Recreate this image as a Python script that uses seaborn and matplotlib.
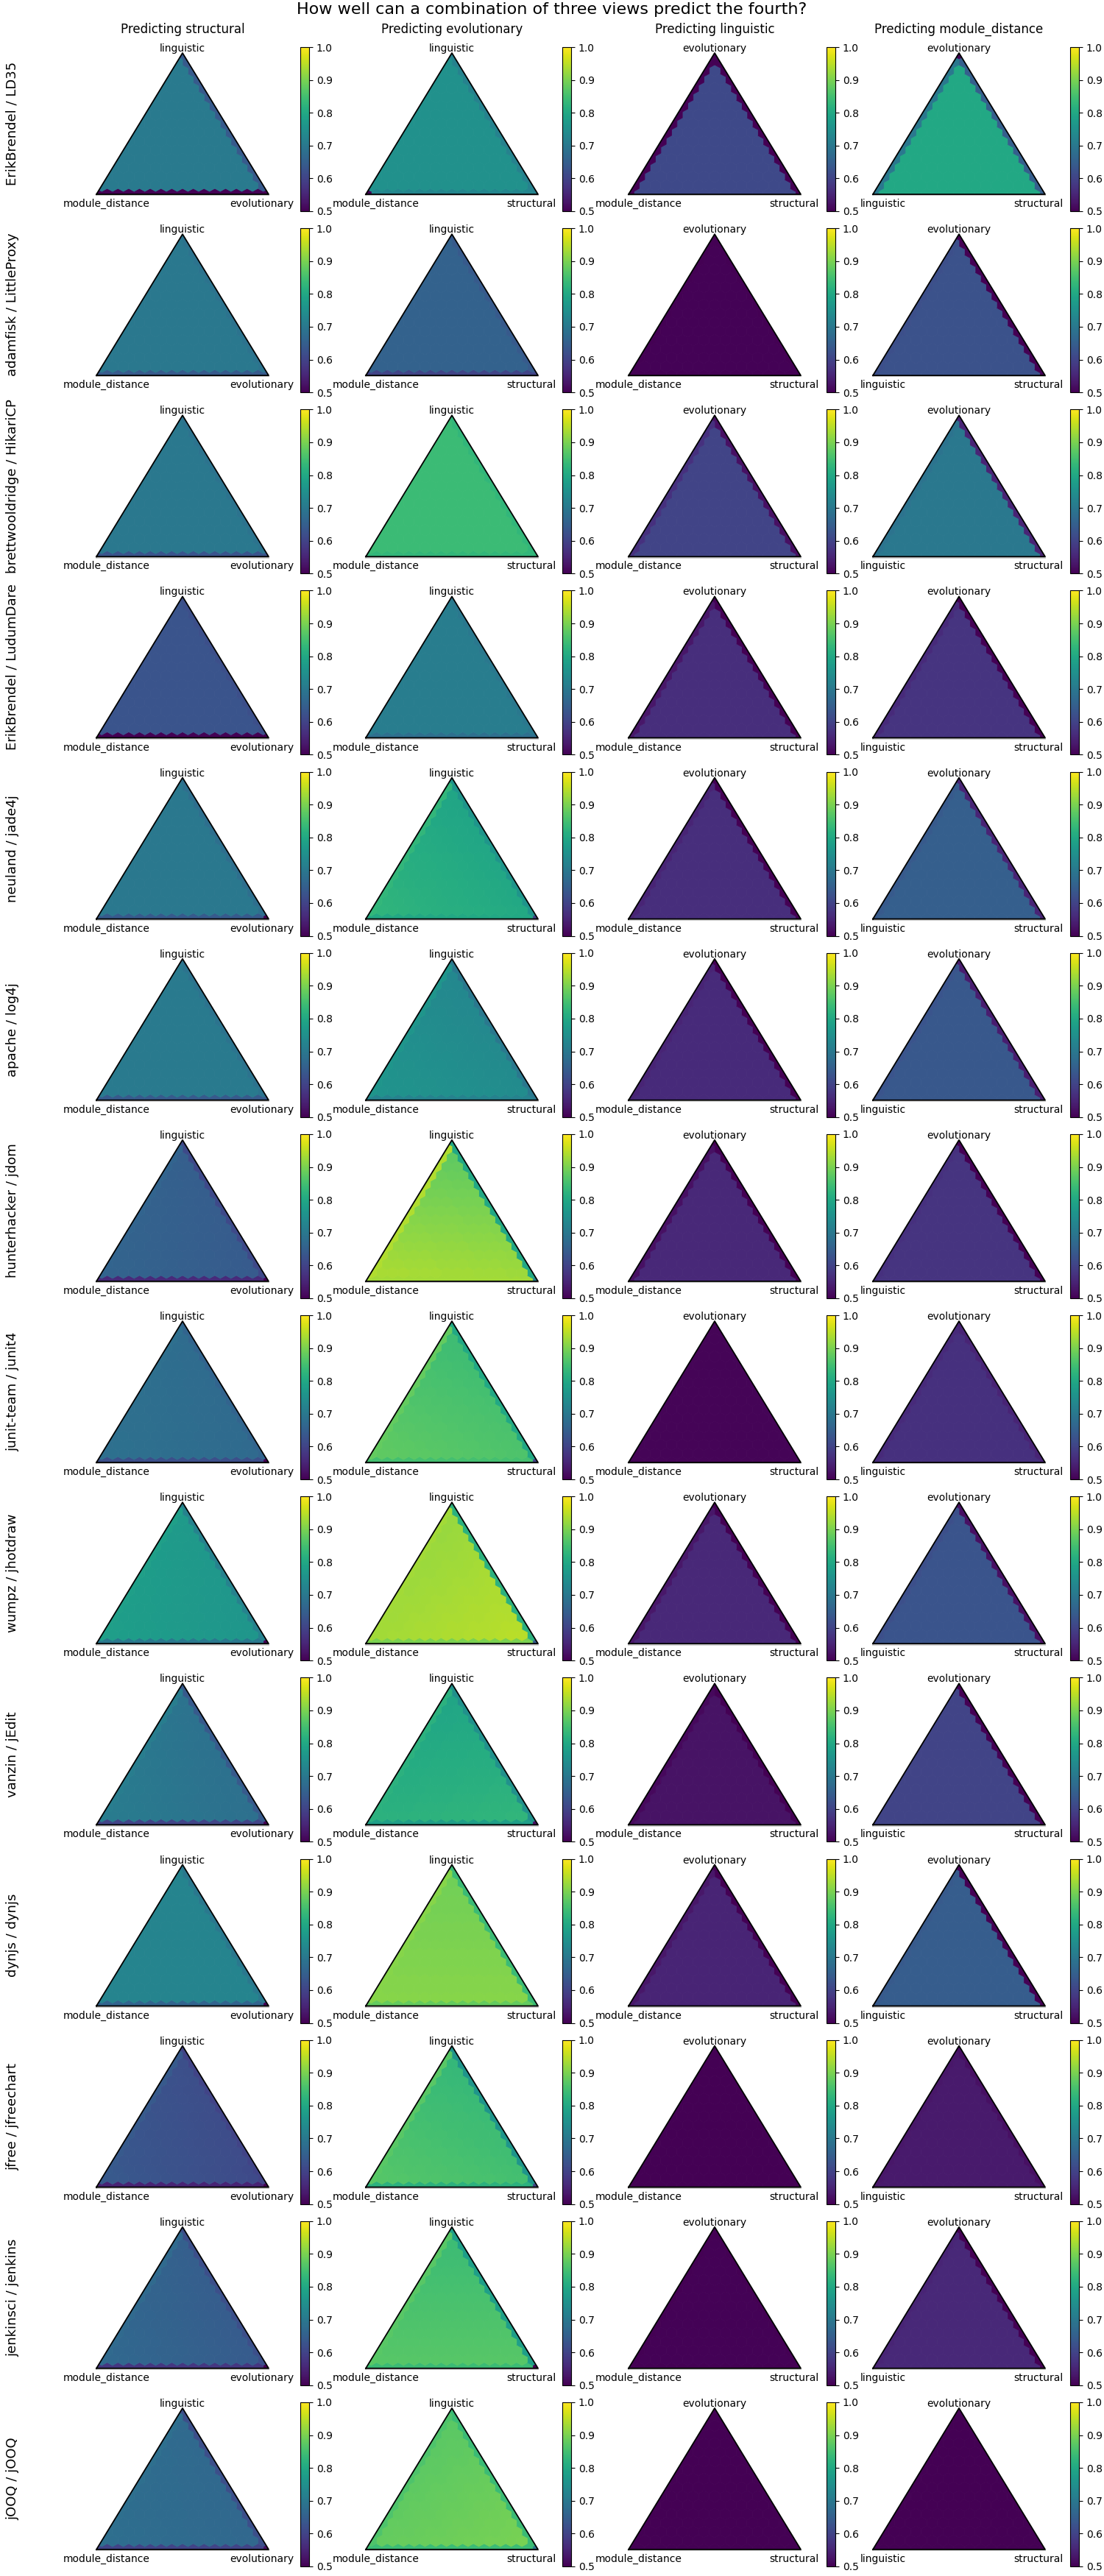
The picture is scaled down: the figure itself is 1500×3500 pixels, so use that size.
import numpy as np
import matplotlib
matplotlib.use("Agg")
import matplotlib.pyplot as plt
from matplotlib.collections import PolyCollection
from matplotlib.patches import Polygon
from matplotlib.colors import Normalize
from matplotlib.cm import ScalarMappable
import seaborn as sns

plt.rcParams['font.family'] = ['DejaVu Sans']

projects = ["ErikBrendel / LD35", "adamfisk / LittleProxy", "brettwooldridge / HikariCP",
            "ErikBrendel / LudumDare", "neuland / jade4j", "apache / log4j", "hunterhacker / jdom",
            "junit-team / junit4", "wumpz / jhotdraw", "vanzin / jEdit", "dynjs / dynjs",
            "jfree / jfreechart", "jenkinsci / jenkins", "jOOQ / jOOQ"]
targets = ["structural", "evolutionary", "linguistic", "module_distance"]
top_labels = ["linguistic", "linguistic", "evolutionary", "evolutionary"]
left_labels = ["module_distance", "module_distance", "module_distance", "linguistic"]
right_labels = ["evolutionary", "structural", "structural", "structural"]

# score in the inside of the triangle, near the top / left / right corner
inner_top = [
    [0.705, 0.75, 0.61, 0.80], [0.70, 0.655, 0.502, 0.625], [0.70, 0.84, 0.60, 0.70],
    [0.63, 0.71, 0.565, 0.575], [0.70, 0.79, 0.565, 0.65], [0.705, 0.73, 0.56, 0.635],
    [0.65, 0.87, 0.555, 0.575], [0.675, 0.84, 0.505, 0.57], [0.77, 0.92, 0.555, 0.63],
    [0.69, 0.79, 0.525, 0.60], [0.725, 0.89, 0.55, 0.645], [0.62, 0.83, 0.50, 0.535],
    [0.65, 0.84, 0.503, 0.555], [0.67, 0.87, 0.50, 0.50]]
inner_left = [
    [0.705, 0.75, 0.61, 0.80], [0.70, 0.655, 0.502, 0.625], [0.70, 0.84, 0.60, 0.70],
    [0.63, 0.71, 0.565, 0.575], [0.70, 0.83, 0.565, 0.65], [0.705, 0.76, 0.56, 0.635],
    [0.66, 0.94, 0.555, 0.575], [0.685, 0.88, 0.505, 0.57], [0.78, 0.93, 0.555, 0.63],
    [0.71, 0.82, 0.525, 0.60], [0.725, 0.91, 0.55, 0.645], [0.64, 0.87, 0.50, 0.535],
    [0.67, 0.87, 0.503, 0.555], [0.68, 0.88, 0.50, 0.50]]
inner_right = [
    [0.705, 0.75, 0.61, 0.80], [0.70, 0.655, 0.502, 0.625], [0.70, 0.84, 0.60, 0.70],
    [0.63, 0.71, 0.565, 0.575], [0.70, 0.80, 0.565, 0.65], [0.705, 0.74, 0.56, 0.635],
    [0.64, 0.93, 0.555, 0.575], [0.67, 0.86, 0.505, 0.57], [0.76, 0.95, 0.555, 0.63],
    [0.68, 0.83, 0.525, 0.60], [0.725, 0.91, 0.55, 0.645], [0.61, 0.85, 0.50, 0.535],
    [0.64, 0.87, 0.503, 0.555], [0.665, 0.90, 0.50, 0.50]]

# score on the three edges (one view weighted zero)
edge_bottom = [
    [0.50, 0.73, 0.61, 0.80], [0.64, 0.60, 0.50, 0.625], [0.63, 0.83, 0.60, 0.70],
    [0.50, 0.68, 0.565, 0.575], [0.64, 0.80, 0.565, 0.65], [0.64, 0.72, 0.56, 0.635],
    [0.56, 0.93, 0.555, 0.575], [0.62, 0.85, 0.505, 0.57], [0.70, 0.90, 0.555, 0.63],
    [0.60, 0.78, 0.525, 0.60], [0.66, 0.88, 0.55, 0.645], [0.55, 0.82, 0.50, 0.535],
    [0.58, 0.84, 0.50, 0.555], [0.60, 0.84, 0.50, 0.50]]
edge_left = [
    [0.705, 0.75, 0.50, 0.70], [0.70, 0.655, 0.50, 0.62], [0.70, 0.84, 0.57, 0.69],
    [0.63, 0.71, 0.53, 0.56], [0.70, 0.83, 0.55, 0.64], [0.705, 0.76, 0.55, 0.63],
    [0.66, 0.94, 0.52, 0.57], [0.68, 0.88, 0.505, 0.56], [0.78, 0.93, 0.53, 0.62],
    [0.71, 0.82, 0.51, 0.60], [0.725, 0.91, 0.53, 0.64], [0.64, 0.87, 0.50, 0.53],
    [0.67, 0.87, 0.50, 0.55], [0.68, 0.86, 0.50, 0.50]]
edge_right = [
    [0.64, 0.72, 0.50, 0.65], [0.69, 0.64, 0.50, 0.50], [0.69, 0.83, 0.52, 0.55],
    [0.62, 0.70, 0.50, 0.50], [0.68, 0.76, 0.50, 0.55], [0.69, 0.70, 0.50, 0.54],
    [0.61, 0.80, 0.50, 0.50], [0.66, 0.80, 0.505, 0.55], [0.72, 0.82, 0.50, 0.52],
    [0.64, 0.75, 0.50, 0.50], [0.70, 0.84, 0.50, 0.50], [0.60, 0.76, 0.50, 0.52],
    [0.62, 0.78, 0.50, 0.50], [0.62, 0.84, 0.50, 0.50]]

# single-view corners that differ from their edges: (row, column, corner, score)
corner_scores = [(0, 1, "left", 0.50), (0, 3, "top", 0.50), (3, 0, "right", 0.50),
                 (4, 0, "right", 0.50), (4, 1, "right", 0.60), (6, 0, "right", 0.50),
                 (6, 1, "right", 0.72), (7, 0, "right", 0.50), (7, 1, "right", 0.60),
                 (8, 0, "right", 0.50), (8, 1, "right", 0.65), (9, 0, "right", 0.50),
                 (9, 1, "right", 0.52), (10, 0, "right", 0.50), (11, 0, "right", 0.50),
                 (11, 1, "right", 0.60), (12, 0, "right", 0.50), (12, 1, "right", 0.50),
                 (13, 0, "right", 0.52), (13, 1, "right", 0.70)]

W, H = 1500, 3500
pitch = 246.15
tri_x = [131, 497, 854, 1186]
cb_x = [408, 764, 1123, 1454]
N = 16
r3 = np.sqrt(3) / 2

cmap = sns.color_palette("viridis", as_cmap=True)
norm = Normalize(vmin=0.5, vmax=1.0)

pts = [(a, b, N - a - b) for a in range(N + 1) for b in range(N + 1 - a)]
ang = np.radians(np.arange(30, 390, 60))
rad = 1 / N / np.sqrt(3)
hexes = [np.column_stack([(c + a / 2) / N + rad * np.cos(ang), a * r3 / N + rad * np.sin(ang)])
         for a, b, c in pts]


def box(x0, y0, w, h):
    return [x0 / W, 1 - (y0 + h) / H, w / W, h / H]


def score(a, b, c, r, k, corners):
    if b == 0 and c == 0:
        return corners.get("top", min(edge_left[r][k], edge_right[r][k]))
    if a == 0 and c == 0:
        return corners.get("left", min(edge_left[r][k], edge_bottom[r][k]))
    if a == 0 and b == 0:
        return corners.get("right", min(edge_right[r][k], edge_bottom[r][k]))
    if a == 0:
        return edge_bottom[r][k]
    if c == 0:
        return edge_left[r][k]
    if b == 0:
        return edge_right[r][k]
    return (a * inner_top[r][k] + b * inner_left[r][k] + c * inner_right[r][k]) / N


fig = plt.figure(figsize=(15, 35), dpi=100)
fig.text(0.5, 1 - 13 / H, "How well can a combination of three views predict the fourth?",
         ha="center", va="center", fontsize=16)

for r, name in enumerate(projects):
    fig.text(17 / W, 1 - (168 + pitch * r) / H, name, rotation=90, ha="center", va="center", fontsize=13)
    for k in range(4):
        corners = {c[2]: c[3] for c in corner_scores if c[0] == r and c[1] == k}
        vals = [score(a, b, c, r, k, corners) for a, b, c in pts]
        ax = fig.add_axes(box(tri_x[k], 72 + pitch * r, 234, 192))
        ax.set_xlim(0, 1)
        ax.set_ylim(0, r3)
        ax.axis("off")
        tri = Polygon([[0, 0], [1, 0], [0.5, r3]], closed=True, transform=ax.transData)
        pc = PolyCollection(hexes, facecolors=cmap(norm(vals)), edgecolors="face", linewidths=0.6)
        ax.add_collection(pc)
        pc.set_clip_path(tri)
        ax.plot([0, 1], [-0.006, -0.006], color="#d0d0d0", lw=1.5, clip_on=False)
        ax.plot([0, 1, 0.5, 0], [0, 0, r3, 0], color="black", lw=1.3, clip_on=False)
        ax.annotate(top_labels[k], (0.5, r3), xytext=(0, 4.3), textcoords="offset points",
                    ha="center", va="center", fontsize=10, annotation_clip=False)
        ax.annotate(left_labels[k], (0, 0), xytext=(10.1, -9.4), textcoords="offset points",
                    ha="center", va="center", fontsize=10, annotation_clip=False)
        ax.annotate(right_labels[k], (1, 0), xytext=(-6.5, -9.4), textcoords="offset points",
                    ha="center", va="center", fontsize=10, annotation_clip=False)
        if r == 0:
            fig.text((tri_x[k] + 117) / W, 1 - 40 / H, "Predicting " + targets[k],
                     ha="center", va="center", fontsize=12)
        cax = fig.add_axes(box(cb_x[k], 64 + pitch * r, 12, 223))
        sm = ScalarMappable(norm=norm, cmap=cmap)
        fig.colorbar(sm, cax=cax, ticks=[0.5, 0.6, 0.7, 0.8, 0.9, 1.0])

fig.savefig("out.png", dpi=100)
